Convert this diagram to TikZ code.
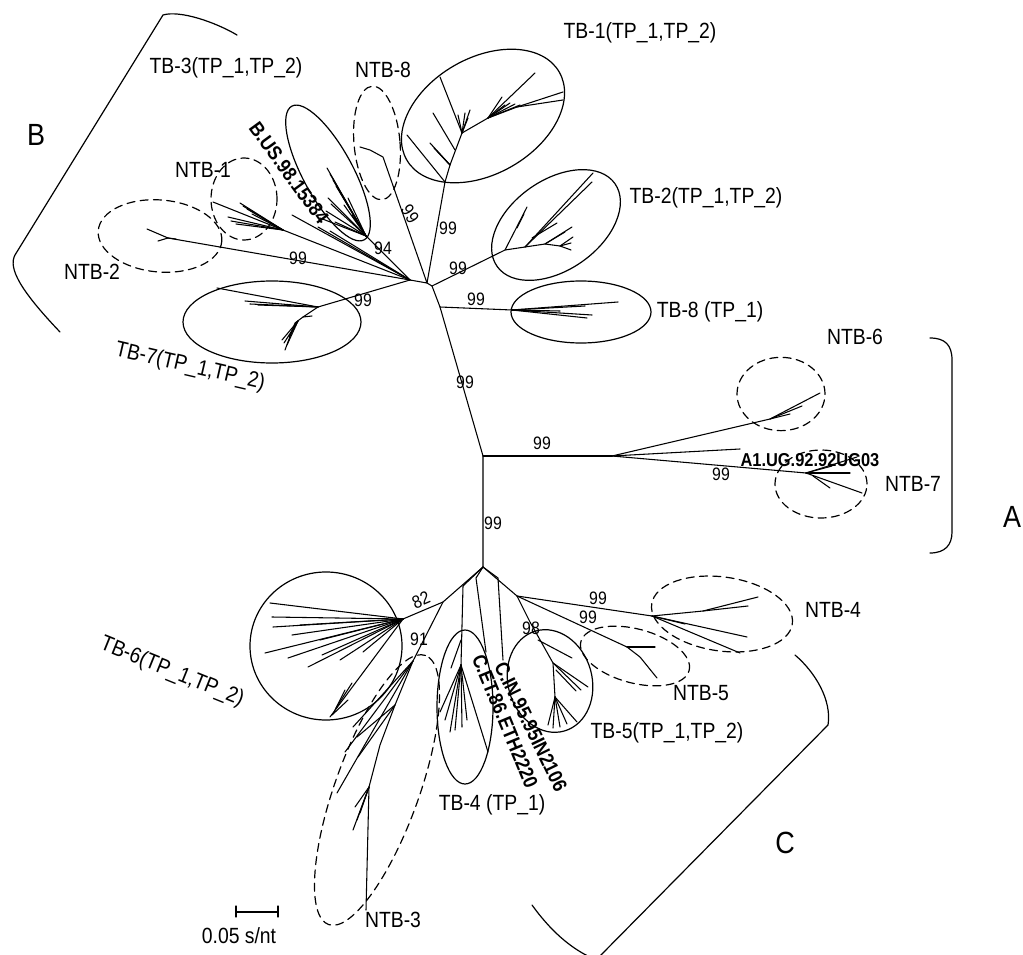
\documentclass[tikz,border=0pt]{standalone}
\usepackage{fontspec}
\setmainfont{Liberation Sans}
\newfontfamily\labfont[FakeStretch=0.88]{Liberation Sans}
\usetikzlibrary{shapes.geometric}
\tikzset{
 grp/.style={draw, ellipse, inner sep=0pt, outer sep=0pt, line width=0.9pt},
 dgrp/.style={grp, dash pattern=on 6pt off 4pt},
 lbl/.style={font=\labfont\fontsize{16.5}{18}\selectfont, inner sep=0pt},
 bsv/.style={font=\labfont\fontsize{13.5}{15}\selectfont, inner sep=0pt},
 taxon/.style={font=\labfont\bfseries\fontsize{15}{16}\selectfont, inner sep=0pt},
 clade/.style={font=\labfont\fontsize{23}{25}\selectfont, inner sep=0pt},
 brk/.style={line width=0.9pt},
}
\begin{document}
\begin{tikzpicture}[x=0.75pt,y=-0.75pt,line width=0.8pt,line cap=round]
\fill[white] (0,0) rectangle (1023,955);
\useasboundingbox (0,0) rectangle (1023,955);

% ---------- backbone ----------
\coordinate (rB) at (410,280);
\coordinate (j1) at (427,283);
\coordinate (j2) at (432,286);
\coordinate (j3) at (440,307);
\coordinate (jA) at (483,456);
\coordinate (rC) at (483,567);
\draw (rB) -- (j1) -- (j2) -- (j3) -- (jA) -- (rC);

% ---------- NTB-2 ----------
\coordinate (n2) at (168,238);
\draw (rB) -- (n2);
\foreach \p in {(147,229),(158,241),(176,239)} \draw (n2) -- \p;

% ---------- NTB-1 ----------
\coordinate (n1) at (283,230);
\draw (rB) -- (n1);
\foreach \p in {(213,202),(240,203),(243,206),(247,209),(228,217),(231,221),(236,224),(252,214)} \draw (n1) -- \p;

% ---------- TB-3 ----------
\coordinate (n3) at (366,236);
\draw (rB) -- (n3);
\foreach \p in {(327,168),(330,174),(333,180),(336,186),(340,192),(328,198),(331,204),(326,211),(344,205),(348,198),(320,218),(335,222),(352,215)} \draw (n3) -- \p;
\foreach \p in {(292,215),(318,227),(330,231)} \draw (rB) -- \p;

% ---------- NTB-8 ----------
\coordinate (n8) at (383,157);
\draw (j1) -- (n8) -- (370,150) -- (360,147);

% ---------- TB-1 ----------
\coordinate (t1) at (445,182);
\coordinate (t2) at (450,165);
\coordinate (t3) at (462,133);
\coordinate (t4) at (488,118);
\coordinate (t5) at (517,107);
\draw (j1) -- (t1) -- (t2) -- (t3) -- (t4) -- (t5) -- (563,100);
\draw (t1) -- (407,135);
\foreach \p in {(430,143),(434,148),(437,151)} \draw (t2) -- \p;
\draw (455,150) -- (433,113);
\draw (t3) -- (440,77);
\foreach \p in {(458,115),(465,113),(470,110),(468,118)} \draw (t3) -- \p;
\draw (t4) -- (535,73);
\draw (t4) -- (502,97);
\foreach \p in {(505,105),(510,103),(515,104),(520,105)} \draw (t4) -- \p;
\draw (t5) -- (563,92);

% ---------- TB-2 ----------
\coordinate (s1) at (505,250);
\coordinate (s2) at (525,247);
\coordinate (s3) at (545,244);
\coordinate (s4) at (560,246);
\draw (j2) -- (s1) -- (s2) -- (s3) -- (s4) -- (571,250);
\draw (s1) -- (527,207);
\draw (517,228) -- (524,214);
\draw (s2) -- (593,173);
\draw (s2) -- (592,182);
\draw (532,238) -- (557,223);
\draw (s3) -- (572,227);
\draw (s3) -- (565,232);
\draw (s4) -- (573,237);
\draw (s4) -- (571,243);

% ---------- TB-8 ----------
\coordinate (e1) at (512,310);
\draw (j3) -- (e1);
\foreach \p in {(618,302),(592,315),(587,318),(560,311),(585,306)} \draw (e1) -- \p;

% ---------- TB-7 ----------
\coordinate (b7) at (318,307);
\draw (rB) -- (b7);
\draw (b7) -- (217,288);
\foreach \p in {(245,301),(250,304),(258,305)} \draw (b7) -- \p;
\draw (b7) -- (303,317) -- (295,323) -- (285,350);
\foreach \p in {(282,340),(284,343),(289,337),(287,345)} \draw (298,321) -- \p;
\draw (303,317) -- (312,316);

% ---------- A group ----------
\coordinate (a0) at (612,456);
\draw (jA) -- (a0);
\coordinate (a6) at (770,419);
\draw (a0) -- (a6) -- (820,393);
\draw (a6) -- (802,406);
\draw (a6) -- (790,414);
\coordinate (a1) at (740,449);
\draw (a0) -- (a1);
\coordinate (a7) at (806,473);
\draw (a0) -- (a7);
\foreach \p in {(857,457),(850,473),(862,493),(832,466)} \draw (a7) -- \p;
\draw (813,476) -- (830,488);

% ---------- lower cluster ----------
\coordinate (L1) at (443,602);
\draw (rC) -- (L1);
\coordinate (k6) at (403,619);
\draw (L1) -- (k6);
\foreach \p in {(270,603),(272,617),(273,627),(292,635),(265,653),(288,658),(308,667),(322,655),(340,660),(363,652),(300,625),(320,640)} \draw (k6) -- \p;
\draw (k6) -- (330,717);
\draw (336,708) -- (352,683);
\draw (334,712) -- (345,690);
\draw (332,715) -- (348,700);

\coordinate (k3) at (413,661);
\draw (L1) -- (k3);
\coordinate (m1) at (395,705);
\coordinate (m2) at (380,745);
\coordinate (m3) at (369,787);
\coordinate (m4) at (366,910);
\draw (k3) -- (m1) -- (m2) -- (m3) -- (m4);
\foreach \p in {(337,793),(353,727),(345,752)} \draw (k3) -- \p;
\foreach \p in {(357,737),(358,757)} \draw (m1) -- \p;
\foreach \p in {(360,813),(357,820),(353,830),(355,807)} \draw (m3) -- \p;

% TB-4
\coordinate (q1) at (463,586);
\coordinate (q2) at (461,665);
\draw (rC) -- (q1) -- (q2);
\foreach \p in {(440,712),(445,720),(450,732),(455,730),(462,727),(467,720),(488,752)} \draw (q2) -- \p;
\draw (461,640) -- (451,668);

% C.ET / C.IN
\coordinate (cet) at (486,652);
\draw (rC) -- (476,578) -- (cet);
\coordinate (cin) at (503,660);
\draw (rC) -- (498,578) -- (cin);

% right part
\coordinate (rr) at (517,596);
\draw (rC) -- (rr);
\coordinate (n4) at (652,616);
\draw (rr) -- (n4);
\draw (n4) -- (703,611) -- (758,597);
\draw (703,611) -- (748,606);
\foreach \p in {(747,637),(740,653),(685,624)} \draw (n4) -- \p;
\coordinate (n5) at (627,647);
\draw (rr) -- (n5);
\draw (n5) -- (640,657) -- (657,678);
\draw (n5) -- (655,647);
\coordinate (p1) at (530,622);
\coordinate (p2) at (553,663);
\coordinate (p3) at (555,697);
\draw (rr) -- (p1) -- (p2) -- (p3);
\draw (538,640) -- (572,658);
\foreach \p in {(588,687),(581,690)} \draw (p2) -- \p;
\draw (556,670) -- (576,691);
\foreach \p in {(577,722),(548,725),(553,728),(560,727),(567,724)} \draw (p3) -- \p;

% ---------- group outlines ----------
\node[grp, minimum width=114pt, minimum height=37.5pt, rotate=-61.6] (tb3) at (328,173) {};
\node[dgrp, minimum width=34.5pt, minimum height=85.5pt, rotate=5] (ntb8) at (377,143) {};
\node[dgrp, minimum width=49.5pt, minimum height=61.5pt] (ntb1) at (244,199) {};
\node[dgrp, minimum width=93pt, minimum height=54pt, rotate=-5] (ntb2) at (160,236) {};
\node[grp, minimum width=132pt, minimum height=87pt, rotate=30] (tb1) at (483,116) {};
\node[grp, minimum width=108pt, minimum height=67.5pt, rotate=35] (tb2) at (556,225) {};
\node[grp, minimum width=105pt, minimum height=46.5pt] (tb8) at (581,312) {};
\node[grp, minimum width=133.5pt, minimum height=61.5pt] (tb7) at (272,322) {};
\node[dgrp, minimum width=66pt, minimum height=55pt] (ntb6) at (781,394) {};
\node[dgrp, minimum width=69pt, minimum height=51pt] (ntb7) at (821,484) {};
\node[grp, minimum width=114pt, minimum height=111pt] (tb6) at (326,646) {};
\node[dgrp, minimum width=214.5pt, minimum height=63pt, rotate=70.2] (ntb3) at (377,790) {};
\node[grp, minimum width=42pt, minimum height=115.5pt] (tb4) at (465,707) {};
\node[grp, minimum width=63pt, minimum height=78pt, rotate=16] (tb5) at (550,681) {};
\node[dgrp, minimum width=84pt, minimum height=40.5pt, rotate=-15] (ntb5) at (635,656) {};
\node[dgrp, minimum width=106.5pt, minimum height=55.5pt, rotate=-8] (ntb4) at (722,614) {};

% ---------- brackets ----------
\draw[brk] (237,35) .. controls (215,22) and (180,10) .. (163,15) -- (15,255) .. controls (8,268) and (20,290) .. (60,332);
\draw[brk] (930,338) .. controls (945,338) and (952,345) .. (952,360) -- (952,532) .. controls (952,545) and (945,553) .. (930,553);
\draw[brk] (795,655) .. controls (815,672) and (832,700) .. (828,725) -- (598,958);
\draw[brk] (532,905) .. controls (550,930) and (570,948) .. (592,958);

% ---------- scale bar ----------
\coordinate (sb1) at (236,912);
\coordinate (sb2) at (278,912);
\draw (sb1) -- (sb2);
\draw (236,906) -- (236,917);
\draw (278,906) -- (278,917);
\node[lbl] (sbl) at (239,936) {0.05 s/nt};

% ---------- labels ----------
\node[lbl] (Ltb3) at (226,68) {TB-3(TP\_1,TP\_2)};
\node[lbl] (Lntb8) at (383,70) {NTB-8};
\node[lbl] (Ltb1) at (640,33) {TB-1(TP\_1,TP\_2)};
\node[clade] (LB) at (36,135) {B};
\node[lbl] (Lntb1) at (203,170) {NTB-1};
\node[lbl] (Lntb2) at (92,272) {NTB-2};
\node[lbl] (Ltb2) at (706,198) {TB-2(TP\_1,TP\_2)};
\node[lbl] (Ltb8) at (710,312) {TB-8 (TP\_1)};
\node[lbl, rotate=-13] (Ltb7) at (190,367) {TB-7(TP\_1,TP\_2)};
\node[lbl] (Lntb6) at (855,337) {NTB-6};
\node[lbl] (Lntb7) at (913,484) {NTB-7};
\node[clade] (LA) at (1012,517) {A};
\node[lbl, rotate=-22] (Ltb6) at (172,672) {TB-6(TP\_1,TP\_2)};
\node[lbl] (Lntb3) at (393,920) {NTB-3};
\node[lbl] (Ltb4) at (492,805) {TB-4 (TP\_1)};
\node[lbl] (Ltb5) at (667,733) {TB-5(TP\_1,TP\_2)};
\node[lbl] (Lntb5) at (701,693) {NTB-5};
\node[lbl] (Lntb4) at (833,610) {NTB-4};
\node[clade] (LC) at (785,843) {C};

\node[taxon, rotate=-54] (Lbus) at (289,173) {B.US.98.15384};
\node[taxon, anchor=west, font=\labfont\bfseries\fontsize{14}{15}\selectfont] (La1) at (740,460) {A1.UG.92.92UG03};
\node[taxon, rotate=-67.5] (Lcet) at (505,721) {C.ET.86.ETH2220};
\node[taxon, rotate=-64] (Lcin) at (531,727) {C.IN.95.95IN2106};

% ---------- bootstrap values ----------
\node[bsv, rotate=-58] (v1) at (410,214) {99};
\node[bsv] (v2) at (448,228) {99};
\node[bsv] (v3) at (458,268) {99};
\node[bsv] (v4) at (476,299) {99};
\node[bsv] (v5) at (383,248) {94};
\node[bsv] (v6) at (298,258) {99};
\node[bsv] (v7) at (363,300) {99};
\node[bsv] (v8) at (465,382) {99};
\node[bsv] (v9) at (542,443) {99};
\node[bsv] (v10) at (721,474) {99};
\node[bsv] (v11) at (493,523) {99};
\node[bsv, rotate=23] (v12) at (421,600) {82};
\node[bsv] (v13) at (419,639) {91};
\node[bsv] (v14) at (531,628) {98};
\node[bsv] (v15) at (598,598) {99};
\node[bsv] (v16) at (588,617) {99};
\end{tikzpicture}
\end{document}
